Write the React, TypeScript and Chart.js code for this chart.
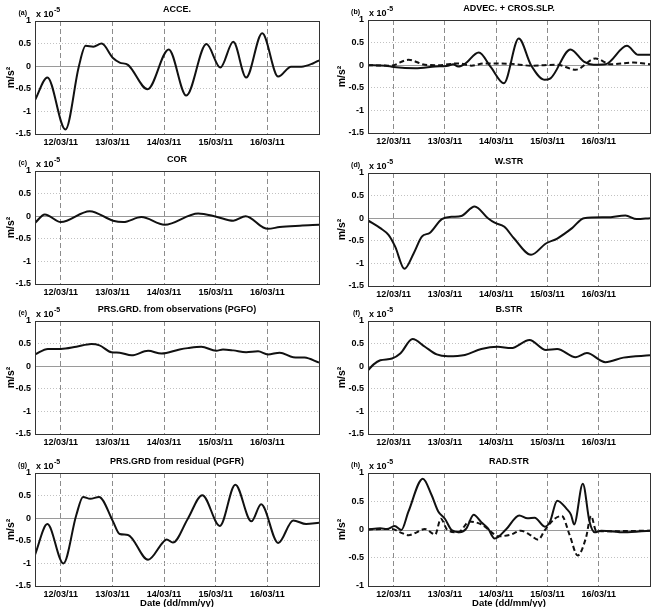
import React, { useEffect, useRef } from 'react';
import { Chart, registerables } from 'chart.js';

Chart.register(...registerables);

const FONT = '"Liberation Sans", Arial, Helvetica, sans-serif';

// x axis: days of March 2011
const X_MIN = 11.5;
const X_MAX = 17.0;
const DAY_TICKS = [12, 13, 14, 15, 16];
const DAY_LABELS = ['12/03/11', '13/03/11', '14/03/11', '15/03/11', '16/03/11'];

// (a) ACCE.
const acceT = [11.5, 11.74, 12.09, 12.35, 12.48, 12.63, 12.79, 13.01, 13.14, 13.30, 13.68, 14.09, 14.43, 14.82, 15.09, 15.34, 15.59, 15.90, 16.21, 16.46, 16.66, 16.88, 17.0];
const acceV = [-0.75, -0.25, -1.40, 0.0, 0.45, 0.43, 0.50, 0.18, 0.08, 0.03, -0.51, 0.37, -0.65, 0.49, -0.03, 0.54, -0.25, 0.73, -0.23, -0.01, -0.01, 0.06, 0.13];

// (b) ADVEC. + CROS.SLP.
const advecT = [11.5, 11.84, 12.0, 12.42, 12.81, 13.06, 13.16, 13.26, 13.39, 13.66, 13.9, 14.15, 14.44, 14.68, 14.94, 15.06, 15.45, 15.71, 15.90, 16.13, 16.55, 16.77, 17.0];
const advecV = [0, -0.01, -0.04, -0.07, -0.03, -0.01, 0.02, -0.03, 0.03, 0.28, -0.05, -0.40, 0.59, 0.0, -0.32, -0.29, 0.35, 0.08, 0.01, 0.02, 0.43, 0.23, 0.23];
const crosT = [11.5, 11.94, 12.29, 12.61, 12.87, 13.26, 13.52, 13.77, 14.29, 14.68, 15.19, 15.55, 15.94, 16.23, 16.68, 17.0];
const crosV = [0, -0.01, 0.12, 0.01, 0.0, 0.04, -0.01, 0.04, 0.03, -0.01, 0.01, -0.10, 0.15, 0.02, 0.06, 0.02];

// (c) COR
const corT = [11.5, 11.69, 12.0, 12.56, 13.01, 13.21, 13.56, 14.01, 14.66, 15.01, 15.34, 15.58, 15.92, 16.01, 16.24, 16.63, 17.0];
const corV = [-0.15, 0.04, -0.13, 0.11, -0.10, -0.13, -0.02, -0.19, 0.06, -0.01, -0.10, 0.0, -0.25, -0.28, -0.24, -0.21, -0.19];

// (d) W.STR
const wstrT = [11.5, 11.74, 11.90, 12.03, 12.21, 12.39, 12.55, 12.71, 12.94, 13.13, 13.32, 13.58, 13.84, 13.97, 14.16, 14.35, 14.68, 14.97, 15.19, 15.48, 15.71, 16.16, 16.52, 16.74, 17.0];
const wstrV = [-0.05, -0.22, -0.37, -0.63, -1.12, -0.78, -0.41, -0.32, -0.02, 0.03, 0.05, 0.26, 0.0, -0.10, -0.19, -0.45, -0.81, -0.56, -0.45, -0.22, 0.0, 0.02, 0.06, -0.02, 0.0];

// (e) PGFO
const pgfoT = [11.5, 11.75, 12.0, 12.30, 12.59, 12.75, 12.98, 13.14, 13.37, 13.69, 13.95, 14.30, 14.46, 14.72, 15.01, 15.14, 15.34, 15.59, 15.82, 16.01, 16.24, 16.50, 16.72, 17.0];
const pgfoV = [0.26, 0.38, 0.38, 0.43, 0.49, 0.46, 0.31, 0.30, 0.24, 0.34, 0.28, 0.37, 0.40, 0.43, 0.34, 0.37, 0.35, 0.31, 0.33, 0.26, 0.30, 0.20, 0.19, 0.08];

// (f) B.STR
const bstrT = [11.5, 11.61, 11.74, 11.97, 12.13, 12.37, 12.61, 12.84, 13.06, 13.39, 13.71, 14.03, 14.29, 14.65, 14.97, 15.19, 15.55, 15.77, 16.13, 16.48, 17.0];
const bstrV = [-0.09, 0.04, 0.13, 0.17, 0.28, 0.60, 0.43, 0.26, 0.22, 0.25, 0.38, 0.43, 0.40, 0.58, 0.36, 0.38, 0.20, 0.29, 0.09, 0.19, 0.24];

// (g) PGFR
const pgfrT = [11.5, 11.74, 12.05, 12.30, 12.43, 12.57, 12.74, 13.01, 13.14, 13.30, 13.69, 13.98, 14.05, 14.17, 14.46, 14.74, 15.08, 15.38, 15.69, 15.88, 16.21, 16.50, 16.75, 17.0];
const pgfrV = [-0.81, -0.13, -1.0, 0.07, 0.47, 0.43, 0.47, -0.07, -0.35, -0.37, -0.92, -0.53, -0.47, -0.54, -0.01, 0.51, -0.17, 0.74, -0.07, 0.31, -0.55, -0.05, -0.13, -0.10];

// (h) RAD.STR
const radT = [11.5, 11.74, 11.87, 12.02, 12.15, 12.29, 12.57, 12.74, 12.87, 13.0, 13.13, 13.29, 13.42, 13.56, 13.71, 13.84, 13.97, 14.19, 14.45, 14.61, 14.75, 14.95, 15.05, 15.19, 15.37, 15.46, 15.52, 15.69, 15.82, 15.92, 16.05, 16.50, 17.0];
const radV = [0, 0.02, 0.01, 0.06, -0.01, 0.32, 0.90, 0.61, 0.32, 0.19, -0.01, -0.05, 0.02, 0.26, 0.13, 0.02, -0.16, 0.0, 0.25, 0.20, 0.21, 0.05, 0.14, 0.51, 0.37, 0.26, 0.09, 0.81, 0.14, -0.05, -0.02, -0.05, -0.02];
const rad2T = [11.5, 11.97, 12.13, 12.29, 12.45, 12.61, 12.81, 12.92, 13.05, 13.26, 13.48, 13.71, 13.90, 14.03, 14.29, 14.48, 14.65, 14.82, 14.95, 15.14, 15.28, 15.43, 15.59, 15.75, 15.85, 15.95, 16.24, 17.0];
const rad2V = [0, 0.01, -0.05, -0.10, -0.05, 0.01, -0.09, 0.19, -0.01, -0.05, 0.14, 0.09, -0.04, -0.12, -0.09, -0.02, -0.09, -0.18, -0.01, 0.19, 0.24, -0.09, -0.46, -0.15, 0.24, -0.02, -0.03, -0.02];

type Series = { t: number[]; v: number[]; dashed?: boolean };
type Panel = {
  tag: string;
  title: string;
  series: Series[];
  yMin: number;
  yMax: number;
  col: 0 | 1;
  top: number;
  bottomRow: boolean;
};

const PANELS: Panel[] = [
  { tag: '(a)', title: 'ACCE.', series: [{ t: acceT, v: acceV }], yMin: -1.5, yMax: 1, col: 0, top: 21, bottomRow: false },
  { tag: '(b)', title: 'ADVEC. + CROS.SLP.', series: [{ t: advecT, v: advecV }, { t: crosT, v: crosV, dashed: true }], yMin: -1.5, yMax: 1, col: 1, top: 20, bottomRow: false },
  { tag: '(c)', title: 'COR', series: [{ t: corT, v: corV }], yMin: -1.5, yMax: 1, col: 0, top: 171, bottomRow: false },
  { tag: '(d)', title: 'W.STR', series: [{ t: wstrT, v: wstrV }], yMin: -1.5, yMax: 1, col: 1, top: 173, bottomRow: false },
  { tag: '(e)', title: 'PRS.GRD. from observations (PGFO)', series: [{ t: pgfoT, v: pgfoV }], yMin: -1.5, yMax: 1, col: 0, top: 321, bottomRow: false },
  { tag: '(f)', title: 'B.STR', series: [{ t: bstrT, v: bstrV }], yMin: -1.5, yMax: 1, col: 1, top: 321, bottomRow: false },
  { tag: '(g)', title: 'PRS.GRD from residual (PGFR)', series: [{ t: pgfrT, v: pgfrV }], yMin: -1.5, yMax: 1, col: 0, top: 473, bottomRow: true },
  { tag: '(h)', title: 'RAD.STR', series: [{ t: radT, v: radV }, { t: rad2T, v: rad2V, dashed: true }], yMin: -1, yMax: 1, col: 1, top: 473, bottomRow: true },
];

const CANVAS_W = 327;
const TOP_PAD = 22;
const PLOT_H = 113;

const decorPlugin = {
  id: 'decor',
  beforeDatasetsDraw(chart: any) {
    const { ctx, chartArea: a, scales } = chart;
    const y0 = Math.round(scales.y.getPixelForValue(0)) + 0.5;
    ctx.save();
    ctx.setLineDash([]);
    ctx.strokeStyle = '#9a9a9a';
    ctx.lineWidth = 1;
    ctx.beginPath();
    ctx.moveTo(a.left, y0);
    ctx.lineTo(a.right, y0);
    ctx.stroke();
    ctx.restore();
  },
  afterDraw(chart: any, _args: any, opts: any) {
    const { ctx, chartArea: a } = chart;
    ctx.save();
    ctx.setLineDash([]);
    ctx.strokeStyle = '#333';
    ctx.lineWidth = 1;
    const l = Math.round(a.left) + 0.5;
    const t = Math.round(a.top) + 0.5;
    ctx.strokeRect(l, t, Math.round(a.right) - Math.round(a.left), Math.round(a.bottom) - Math.round(a.top));
    ctx.fillStyle = '#000';
    ctx.textBaseline = 'middle';
    ctx.textAlign = 'center';
    ctx.font = `bold 9px ${FONT}`;
    ctx.fillText(opts.title, (a.left + a.right) / 2, a.top - 11);
    ctx.textAlign = 'right';
    ctx.font = `bold 7px ${FONT}`;
    ctx.fillText(opts.tag, a.left - 8, a.top - 8);
    ctx.textAlign = 'left';
    ctx.font = `bold 9px ${FONT}`;
    const base = 'x 10';
    ctx.fillText(base, a.left + 1, a.top - 6);
    const w = ctx.measureText(base).width;
    ctx.font = `bold 7px ${FONT}`;
    ctx.fillText('-5', a.left + 1.5 + w, a.top - 11);
    ctx.restore();
  },
};

function PanelChart({ p }: { p: Panel }) {
  const ref = useRef<HTMLCanvasElement>(null);
  const xH = p.bottomRow ? 25 : 15;
  const canvasH = TOP_PAD + PLOT_H + xH;
  const yW = p.col === 0 ? 35 : 40;
  const padR = p.col === 0 ? 8 : 5;
  const left = p.col === 0 ? 0 : 328;

  useEffect(() => {
    const chart = new Chart(ref.current as HTMLCanvasElement, {
      type: 'line',
      data: {
        datasets: p.series.map((s) => ({
          data: s.t.map((x, i) => ({ x, y: s.v[i] })),
          borderColor: '#111',
          borderWidth: 2,
          borderDash: s.dashed ? [5, 3] : [],
          pointRadius: 0,
          fill: false,
          cubicInterpolationMode: 'monotone' as const,
          borderJoinStyle: 'round' as const,
        })),
      },
      options: {
        animation: false,
        responsive: false,
        events: [],
        layout: { padding: { top: TOP_PAD, right: padR, bottom: 0, left: 0 } },
        plugins: {
          legend: { display: false },
          tooltip: { enabled: false },
          title: { display: false },
          decor: { title: p.title, tag: p.tag },
        } as any,
        scales: {
          x: {
            type: 'linear',
            min: X_MIN,
            max: X_MAX,
            afterBuildTicks: (s: any) => {
              s.ticks = DAY_TICKS.map((value) => ({ value }));
            },
            afterFit: (s: any) => {
              s.height = xH;
            },
            ticks: {
              autoSkip: false,
              maxRotation: 0,
              minRotation: 0,
              padding: 3,
              color: '#000',
              font: { family: FONT, size: 9, weight: 'bold' },
              callback: (v: any) => {
                const i = DAY_TICKS.indexOf(Number(v));
                return i >= 0 ? DAY_LABELS[i] : '';
              },
            },
            grid: { color: '#8c8c8c', lineWidth: 1, drawTicks: false },
            border: { display: false, dash: [5, 3] },
            title: {
              display: p.bottomRow,
              text: 'Date (dd/mm/yy)',
              color: '#000',
              font: { family: FONT, size: 9.5, weight: 'bold' },
              padding: { top: 0, bottom: 2 },
            },
          },
          y: {
            type: 'linear',
            min: p.yMin,
            max: p.yMax,
            afterFit: (s: any) => {
              s.width = yW;
            },
            ticks: {
              stepSize: 0.5,
              padding: 4,
              color: '#000',
              font: { family: FONT, size: 9, weight: 'bold' },
              callback: (v: any) => String(Math.round(Number(v) * 10) / 10),
            },
            grid: {
              color: (c: any) => (c.tick && Math.abs(c.tick.value) < 1e-9 ? 'rgba(0,0,0,0)' : '#c2c2c2'),
              lineWidth: 1,
              drawTicks: false,
            },
            border: { display: false, dash: [1, 2] },
            title: {
              display: true,
              text: 'm/s²',
              color: '#000',
              font: { family: FONT, size: 10.5, weight: 'bold' },
              padding: { top: p.col === 0 ? 5 : 8, bottom: 0 },
            },
          },
        },
      } as any,
      plugins: [decorPlugin as any],
    });
    return () => chart.destroy();
  }, [p]);

  return (
    <canvas
      ref={ref}
      width={CANVAS_W}
      height={canvasH}
      style={{ position: 'absolute', left, top: p.top - TOP_PAD, width: CANVAS_W, height: canvasH }}
    />
  );
}

export default function App() {
  return (
    <div
      style={{
        position: 'absolute',
        left: 0,
        top: 0,
        width: 655,
        height: 607,
        overflow: 'hidden',
        background: '#fff',
      }}
    >
      {PANELS.map((p) => (
        <PanelChart key={p.tag} p={p} />
      ))}
    </div>
  );
}
